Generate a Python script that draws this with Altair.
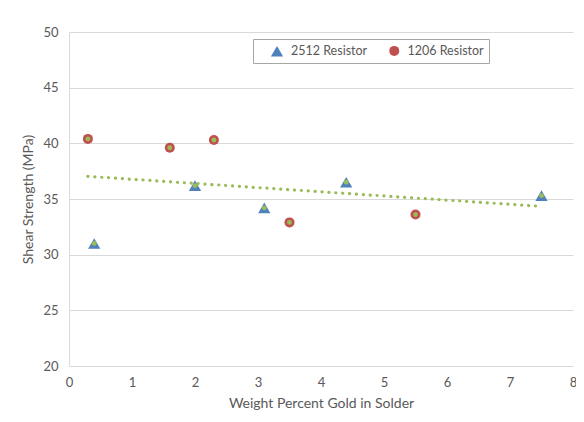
import altair as alt
import pandas as pd

series_names = ["2512 Resistor", "1206 Resistor"]

x_2512 = [0.4, 2.0, 3.1, 4.4, 7.5]
y_2512 = [31.0, 36.2, 34.2, 36.5, 35.3]

x_1206 = [0.3, 1.6, 2.3, 3.5, 5.5]
y_1206 = [40.4, 39.6, 40.3, 32.9, 33.6]

rows = []
for x, y in zip(x_2512, y_2512):
    rows.append({"x": x, "y": y, "series": series_names[0]})
for x, y in zip(x_1206, y_1206):
    rows.append({"x": x, "y": y, "series": series_names[1]})
df = pd.DataFrame(rows)

font = "Lato"
grey = "#595959"

xs = alt.X("x:Q", scale=alt.Scale(domain=[0, 8], nice=False),
           axis=alt.Axis(title="Weight Percent Gold in Solder", values=list(range(0, 9)),
                         grid=False, ticks=False, domain=False, labelPadding=10,
                         titlePadding=7, labelFlush=False))
ys = alt.Y("y:Q", scale=alt.Scale(domain=[20, 50], nice=False, zero=False),
           axis=alt.Axis(title="Shear Strength (MPa)", values=[20, 25, 30, 35, 40, 45, 50],
                         grid=True, ticks=False, domain=True, labelPadding=11,
                         titlePadding=7, labelFlush=False))

base = alt.Chart(df)

trend = base.transform_regression("x", "y").mark_line(
    color="#9BBB59", strokeWidth=3.2, strokeDash=[0.1, 6.8], strokeCap="round"
).encode(x=xs, y=ys)

points = base.mark_point(filled=True, opacity=1, strokeWidth=1.5, strokeJoin="round").encode(
    x=xs, y=ys,
    color=alt.Color("series:N", scale=alt.Scale(domain=series_names, range=["#4F81BD", "#C0504D"]),
                    legend=alt.Legend(title=None, orient="none", legendX=184, legendY=7,
                                      direction="horizontal", strokeColor="#A6A6A6",
                                      fillColor="white", padding=5, columnPadding=8,
                                      labelFontSize=12.5, labelColor=grey, labelFont=font,
                                      symbolSize=90, symbolOffset=12, offset=0,
                                      labelOffset=7)),
    shape=alt.Shape("series:N", scale=alt.Scale(domain=series_names, range=["triangle-up", "circle"])),
    size=alt.Size("series:N", scale=alt.Scale(domain=series_names, range=[150, 100]), legend=None),
)

centers = base.mark_circle(size=24, color="#9BBB59", opacity=1).encode(x=xs, y=ys)

chart = alt.layer(points, centers, trend).properties(
    width=504, height=334,
    autosize=alt.AutoSizeParams(type="none"),
    padding={"left": 61, "top": 24, "right": 3, "bottom": 48},
).configure_view(stroke=None).configure_axis(
    labelFont=font, titleFont=font, labelColor=grey, titleColor=grey,
    labelFontSize=13, titleFontSize=14, titleFontWeight="normal",
    gridColor="#D9D9D9", domainColor="#D9D9D9",
)

chart.save("out.html", embed_options={"renderer": "svg", "actions": False})
